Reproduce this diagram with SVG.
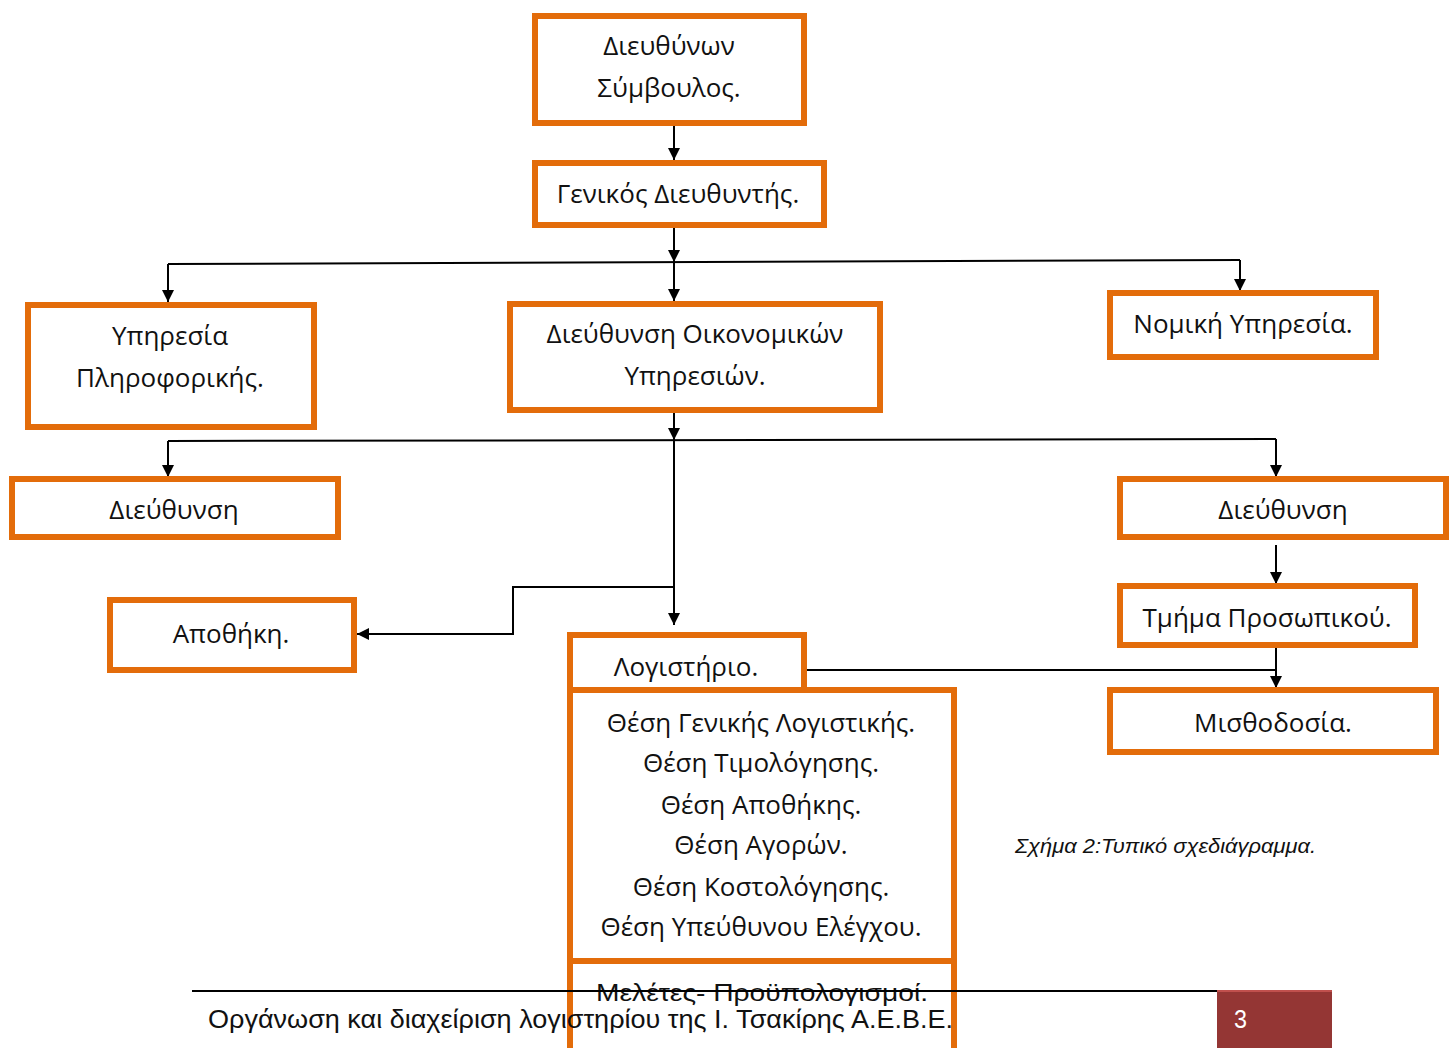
<svg xmlns="http://www.w3.org/2000/svg" width="1456" height="1048" viewBox="0 0 1456 1048">
<style>
.box{fill:#fff;stroke:#E36C0A;stroke-width:6}
.t{font-family:"Open Sans","Noto Sans","DejaVu Sans",sans-serif;font-size:26px;fill:#111;text-anchor:middle}
.c{fill:none;stroke:#000;stroke-width:2}
.a{marker-end:url(#ah)}
.f{font-family:"Liberation Sans",Arial,sans-serif;fill:#111}
</style>
<defs>
<marker id="ah" viewBox="0 0 10 10" refX="10" refY="5" markerWidth="6" markerHeight="6" markerUnits="strokeWidth" orient="auto">
<path d="M0,0 L10,5 L0,10 z" fill="#000"/>
</marker>
</defs>
<g id="connectors">
<path class="c a" d="M674,125 V160"/>
<path class="c a" d="M674,228 V262"/>
<path class="c a" d="M674,262 V301"/>
<path class="c a" d="M168,264 V302"/>
<path class="c" d="M168,264 L1240,260"/>
<path class="c a" d="M1240,260 V291"/>
<path class="c a" d="M674,399 V440"/>
<path class="c" d="M168,441 L1276,439"/>
<path class="c a" d="M168,441 V477"/>
<path class="c a" d="M1276,439 V477"/>
<path class="c a" d="M674,440 V625"/>
<path class="c a" d="M674,587 H513 V634 H357"/>
<path class="c a" d="M1276,545 V584"/>
<path class="c a" d="M1276,648 V688"/>
<path class="c" d="M805,670 H1276"/>
</g>
<g id="n1"><rect class="box" x="535" y="16" width="269" height="107"/>
<text class="t" x="669" y="55">Διευθύνων</text><text class="t" x="669" y="97">Σύμβουλος.</text></g>
<g id="n2"><rect class="box" x="535" y="163" width="289" height="62"/>
<text class="t" x="678" y="203">Γενικός Διευθυντής.</text></g>
<g id="n3"><rect class="box" x="28" y="305" width="286" height="122"/>
<text class="t" x="170" y="345">Υπηρεσία</text><text class="t" x="170" y="387">Πληροφορικής.</text></g>
<g id="n4"><rect class="box" x="510" y="304" width="370" height="106"/>
<text class="t" x="695" y="343">Διεύθυνση Οικονομικών</text><text class="t" x="695" y="385">Υπηρεσιών.</text></g>
<g id="n5"><rect class="box" x="1110" y="293" width="266" height="64"/>
<text class="t" x="1243" y="333">Νομική Υπηρεσία.</text></g>
<g id="n6"><rect class="box" x="12" y="479" width="326" height="58"/>
<text class="t" x="174" y="519">Διεύθυνση</text></g>
<g id="n7"><rect class="box" x="1120" y="479" width="326" height="58"/>
<text class="t" x="1283" y="519">Διεύθυνση</text></g>
<g id="n8"><rect class="box" x="110" y="600" width="244" height="70"/>
<text class="t" x="231" y="643">Αποθήκη.</text></g>
<g id="n9"><rect class="box" x="1120" y="586" width="295" height="59"/>
<text class="t" x="1267" y="627">Τμήμα Προσωπικού.</text></g>
<g id="n10"><rect class="box" x="1110" y="690" width="326" height="62"/>
<text class="t" x="1273" y="732">Μισθοδοσία.</text></g>
<g id="n11"><rect class="box" x="570" y="635" width="234" height="55"/>
<text class="t" x="686" y="676">Λογιστήριο.</text></g>
<g id="n12"><rect class="box" x="570" y="690" width="384" height="271"/>
<text class="t" x="761" y="732">Θέση Γενικής Λογιστικής.</text>
<text class="t" x="761" y="772">Θέση Τιμολόγησης.</text>
<text class="t" x="761" y="814">Θέση Αποθήκης.</text>
<text class="t" x="761" y="854">Θέση Αγορών.</text>
<text class="t" x="761" y="896">Θέση Κοστολόγησης.</text>
<text class="t" x="761" y="936">Θέση Υπεύθυνου Ελέγχου.</text></g>
<g id="n13"><rect class="box" x="570" y="961" width="384" height="110"/>
<text class="f" x="596" y="1001" font-size="24" textLength="332" lengthAdjust="spacingAndGlyphs">Μελέτες- Προϋπολογισμοί.</text></g>
<text class="f" x="1015" y="853" font-size="20" font-style="italic" textLength="301" lengthAdjust="spacingAndGlyphs">Σχήμα 2:Τυπικό σχεδιάγραμμα.</text>
<g id="footer">
<line x1="192" y1="991" x2="1217" y2="991" stroke="#000" stroke-width="2"/>
<rect x="1217" y="990" width="115" height="58" fill="#943634"/>
<line x1="1217" y1="991" x2="1332" y2="991" stroke="#c0504d" stroke-width="2"/>
<text x="1234" y="1028" font-family="Liberation Sans,Arial,sans-serif" font-size="25" fill="#fff" textLength="13" lengthAdjust="spacingAndGlyphs">3</text>
<text class="f" x="208" y="1028" font-size="25" textLength="745" lengthAdjust="spacingAndGlyphs">Οργάνωση και διαχείριση λογιστηρίου της Ι. Τσακίρης Α.Ε.Β.Ε.</text>
</g>
</svg>
